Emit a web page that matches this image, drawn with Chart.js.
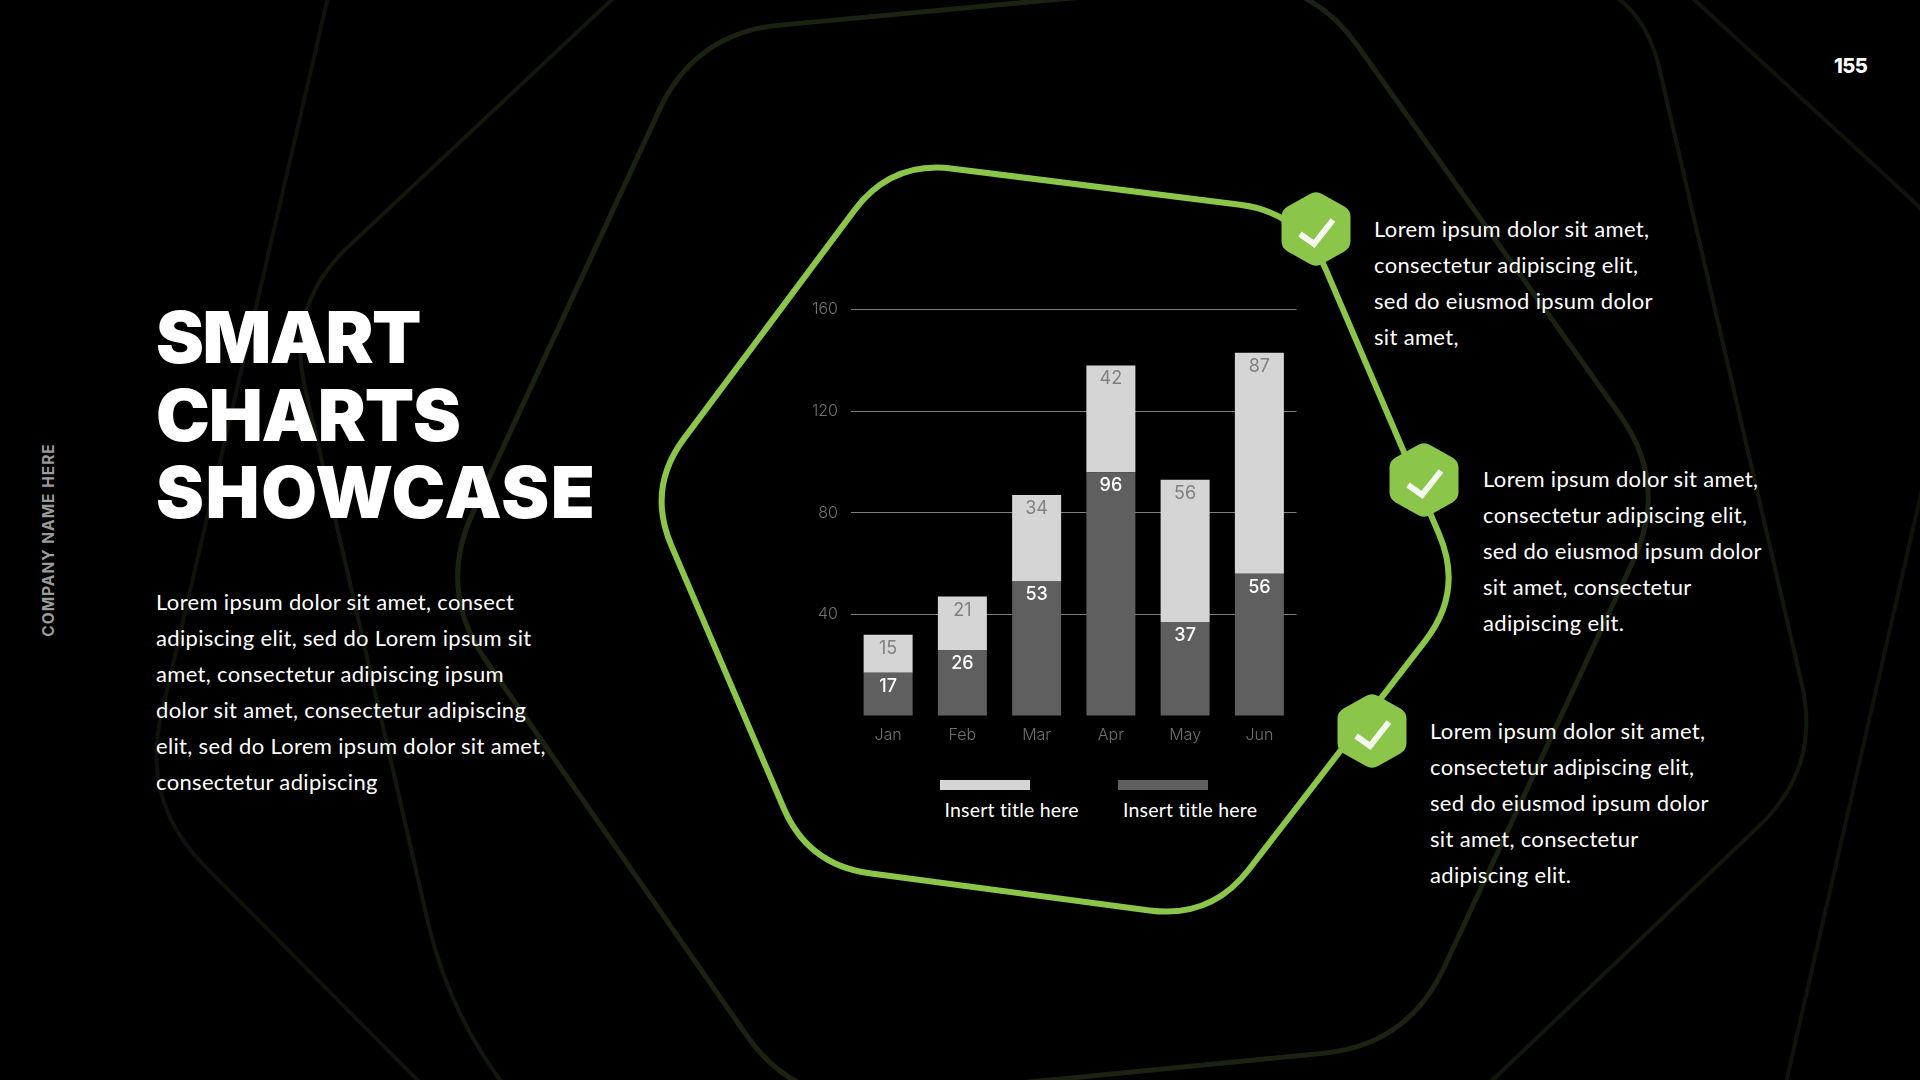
<!DOCTYPE html>
<html lang="en">
<head>
<meta charset="utf-8">
<title>Smart Charts Showcase</title>
<script src="https://cdn.jsdelivr.net/npm/chart.js@4"></script>
<style>
    html, body { margin: 0; padding: 0; background: #000; }
    #slide { position: relative; width: 1920px; height: 1080px; overflow: hidden; background: #000; color: #fff; font-family: Lato, sans-serif; }
    #deco { position: absolute; left: 0; top: 0; }
    #chartBox { position: absolute; left: 780px; top: 287px; width: 520px; height: 469px; }
    .title { position: absolute; left: 156px; top: 298px; font: 900 72px/77.5px Inter, sans-serif; letter-spacing: -1.5px; white-space: nowrap; }
    .body { position: absolute; font-size: 22px; line-height: 36px; letter-spacing: 0.33px; white-space: pre; }
    .company { position: absolute; left: 47.5px; top: 540px; transform: translate(-50%, -50%) rotate(-90deg); font: 700 15.5px Inter, sans-serif; letter-spacing: 1px; color: #9b9b9b; white-space: nowrap; }
    .page { position: absolute; left: 1834px; top: 54px; font: 800 20px Inter, sans-serif; letter-spacing: -0.6px; }
    .swatch { position: absolute; width: 90px; height: 10px; top: 779.5px; }
    .legendText { position: absolute; top: 797px; font-size: 19.5px; line-height: 25px; letter-spacing: 0.2px; white-space: nowrap; }
</style>
</head>
<body>
<div id="slide">
    <svg id="deco" width="1920" height="1080"></svg>
    <div class="company">COMPANY NAME HERE</div>
    <div class="page">155</div>
    <div class="title">SMART<br><span style="letter-spacing:-1.1px">CHARTS</span><br><span style="letter-spacing:1.6px">SHOWCASE</span></div>
    <div class="body" style="left:156px;top:584px">Lorem ipsum dolor sit amet, consect
adipiscing elit, sed do Lorem ipsum sit
amet, consectetur adipiscing ipsum
dolor sit amet, consectetur adipiscing
elit, sed do Lorem ipsum dolor sit amet,
consectetur adipiscing</div>
    <div class="body" style="left:1374px;top:211px">Lorem ipsum dolor sit amet,
consectetur adipiscing elit,
sed do eiusmod ipsum dolor
sit amet,</div>
    <div class="body" style="left:1483px;top:461px">Lorem ipsum dolor sit amet,
consectetur adipiscing elit,
sed do eiusmod ipsum dolor
sit amet, consectetur
adipiscing elit.</div>
    <div class="body" style="left:1430px;top:713px">Lorem ipsum dolor sit amet,
consectetur adipiscing elit,
sed do eiusmod ipsum dolor
sit amet, consectetur
adipiscing elit.</div>
    <div id="chartBox"><canvas id="barChart"></canvas></div>
    <div id="legend"></div>
</div>

<script>
// 圖表數據
const categories = ['Jan', 'Feb', 'Mar', 'Apr', 'May', 'Jun'];
const darkValues = [17, 26, 53, 96, 37, 56];
const lightValues = [15, 21, 34, 42, 56, 87];
const yTicks = [40, 80, 120, 160];
const seriesNames = ['Insert title here', 'Insert title here'];

const LIGHT = '#d5d5d5';
const DARK = '#5f5f5f';
const GREEN = '#8bc64b';

// 背景裝飾：圓角六邊形
function roundedPath(points, r) {
    let d = '';
    const n = points.length;
    for (let i = 0; i < n; i++) {
        const p = points[i];
        const a = points[(i + n - 1) % n];
        const b = points[(i + 1) % n];
        const la = Math.hypot(a[0] - p[0], a[1] - p[1]);
        const lb = Math.hypot(b[0] - p[0], b[1] - p[1]);
        const s = [p[0] + (a[0] - p[0]) * r / la, p[1] + (a[1] - p[1]) * r / la];
        const e = [p[0] + (b[0] - p[0]) * r / lb, p[1] + (b[1] - p[1]) * r / lb];
        d += (i === 0 ? 'M' : 'L') + s[0] + ' ' + s[1] + 'Q' + p[0] + ' ' + p[1] + ' ' + e[0] + ' ' + e[1];
    }
    return d + 'Z';
}

const rings = [
    { pts: [[141, 802], [397, -300], [1586, -100], [1975, 258], [1750, 1240], [626, 1290]], r: 90, w: 4, c: '#0f130a' },
    { pts: [[286, 305], [750, -130], [1640, -15], [1821, 767], [1330, 1235], [620, 1250], [447, 1005]], r: 85, w: 4, c: '#13180d' },
    { pts: [[695, 33], [1308, -24], [1669, 484], [1408, 1045], [795, 1105], [437, 590]], r: 85, w: 5, c: '#1a2211' },
    { pts: [[891.3, 160.9], [1301.5, 212.6], [1463.5, 591.2], [1211, 918.6], [808, 865], [646.9, 488.3]], r: 62, w: 6, c: GREEN }
];
const nodes = [[1316, 229], [1424, 480], [1372, 731]];

const svg = document.getElementById('deco');
let svgHtml = '';
rings.forEach(function (ring) {
    svgHtml += `<path d="${roundedPath(ring.pts, ring.r)}" fill="none" stroke="${ring.c}" stroke-width="${ring.w}"/>`;
});
nodes.forEach(function (c) {
    const hex = [[0, -38.5], [34.5, -19], [34.5, 19], [0, 38.5], [-34.5, 19], [-34.5, -19]]
        .map(function (p) { return [c[0] + p[0], c[1] + p[1]]; });
    svgHtml += `<path d="${roundedPath(hex, 7)}" fill="${GREEN}"/>`;
    svgHtml += `<polyline points="${c[0] - 16},${c[1] + 5} ${c[0] - 2},${c[1] + 15} ${c[0] + 17},${c[1] - 9}" fill="none" stroke="#f4f8ef" stroke-width="6"/>`;
});
svg.innerHTML = svgHtml;

// 圖例
const legendBox = document.getElementById('legend');
[[940, 944.5, LIGHT], [1118, 1123, DARK]].forEach(function (item, i) {
    const swatch = document.createElement('div');
    swatch.className = 'swatch';
    swatch.style.left = item[0] + 'px';
    swatch.style.background = item[2];
    legendBox.appendChild(swatch);
    const label = document.createElement('div');
    label.className = 'legendText';
    label.style.left = item[1] + 'px';
    label.textContent = seriesNames[i];
    legendBox.appendChild(label);
});

// 柱內數字
const barLabelPlugin = {
    id: 'barLabels',
    afterDatasetsDraw: function (chart) {
        const { ctx } = chart;
        ctx.save();
        ctx.textAlign = 'center';
        ctx.textBaseline = 'middle';
        chart.data.datasets.forEach(function (dataset, d) {
            ctx.fillStyle = d === 0 ? '#ffffff' : '#808080';
            ctx.font = (d === 0 ? '500' : '400') + ' 18px Inter, sans-serif';
            chart.getDatasetMeta(d).data.forEach(function (bar, i) {
                ctx.fillText(dataset.data[i], bar.x, bar.y + 13.5);
            });
        });
        ctx.restore();
    }
};

const config = {
    type: 'bar',
    data: {
        labels: categories,
        datasets: [
            { label: seriesNames[1], data: darkValues, backgroundColor: DARK, borderWidth: 0 },
            { label: seriesNames[0], data: lightValues, backgroundColor: LIGHT, borderWidth: 0 }
        ]
    },
    options: {
        responsive: true,
        maintainAspectRatio: false,
        animation: false,
        layout: { padding: { top: 18, right: 3.5, bottom: 0, left: 0 } },
        datasets: { bar: { categoryPercentage: 1, barPercentage: 0.66 } },
        plugins: { legend: { display: false }, tooltip: { enabled: false } },
        scales: {
            x: {
                stacked: true,
                grid: { display: false, drawTicks: false },
                border: { display: false },
                afterFit: function (scale) { scale.height = 40; },
                ticks: { color: '#707070', padding: 10, font: { family: 'Inter, sans-serif', size: 16, weight: '300' } }
            },
            y: {
                stacked: true,
                min: 0,
                max: yTicks[yTicks.length - 1],
                afterFit: function (scale) { scale.width = 71; },
                afterBuildTicks: function (scale) {
                    scale.ticks = [0].concat(yTicks).map(function (v) { return { value: v }; });
                },
                border: { display: false },
                grid: {
                    drawTicks: false,
                    color: function (c) { return c.tick.value === 0 ? 'rgba(0,0,0,0)' : '#7d7d7d'; }
                },
                ticks: {
                    color: '#707070',
                    padding: 13,
                    font: { family: 'Inter, sans-serif', size: 16, weight: '300' },
                    callback: function (v) { return v === 0 ? '' : v; }
                }
            }
        }
    },
    plugins: [barLabelPlugin]
};

new Chart(document.getElementById('barChart'), config);
</script>
</body>
</html>
